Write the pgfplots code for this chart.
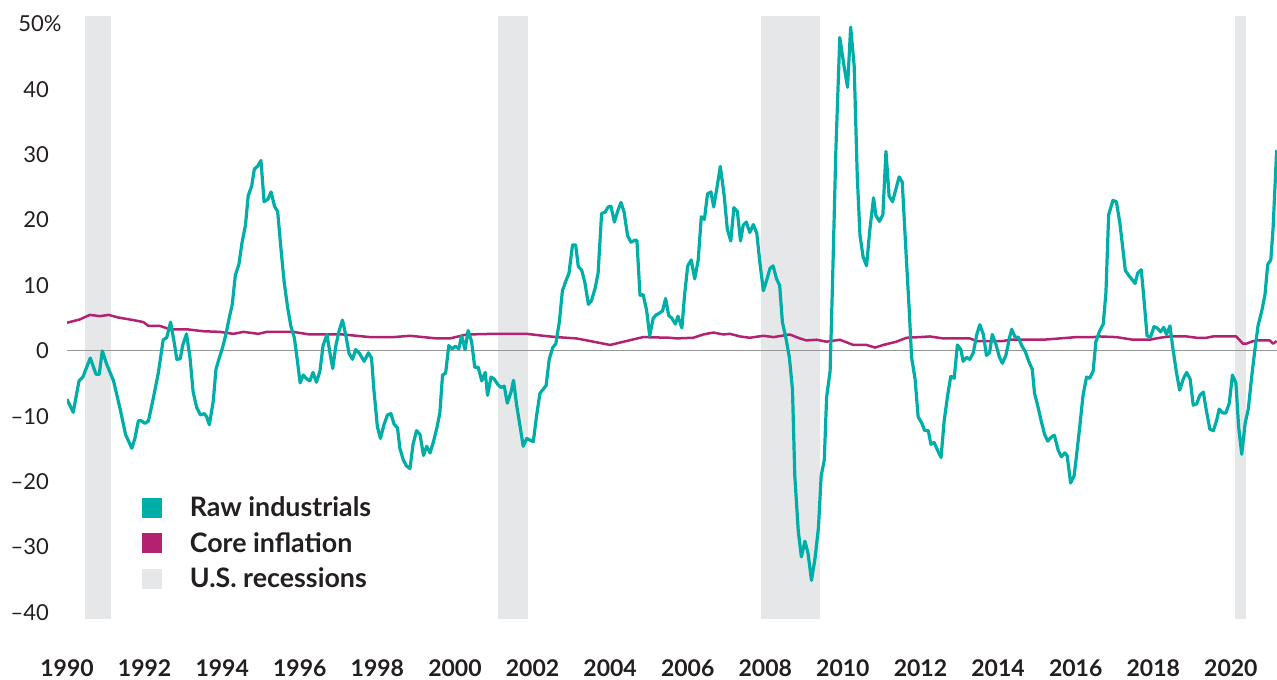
\documentclass[border=0pt]{standalone}
\usepackage{pgfplots}
\pgfplotsset{compat=1.18}
\usepackage{fontspec}
\setmainfont{Lato}
\definecolor{rawcol}{RGB}{0,174,168}
\definecolor{corecol}{RGB}{178,34,112}
\definecolor{recgray}{RGB}{230,231,233}
\definecolor{txt}{RGB}{35,31,32}
\definecolor{zerocol}{RGB}{150,150,150}
\begin{document}
\begin{tikzpicture}
\begin{axis}[
  scale only axis, width=605pt, height=301.5pt,
  xmin=1990, xmax=2021.19, ymin=-41, ymax=51.2,
  axis line style={draw=none}, tick style={draw=none},
  xtick={1990,1992,1994,1996,1998,2000,2002,2004,2006,2008,2010,2012,2014,2016,2018,2020},
  xticklabels={1990,1992,1994,1996,1998,2000,2002,2004,2006,2008,2010,2012,2014,2016,2018,2020},
  ytick={-40,-30,-20,-10,0,10,20,30,40,50},
  yticklabels={–40,–30,–20,–10,0,10,20,30,40,{50\rlap{\%}\hspace*{2.5pt}}},
  xticklabel style={anchor=north, inner sep=0pt, yshift=-20pt, font=\fontsize{11.5}{13}\selectfont\bfseries, text=txt},
  yticklabel style={anchor=east, inner sep=0pt, xshift=-8.8pt, font=\fontsize{11}{13}\selectfont, text=txt},
  legend cell align=left,
  legend style={at={(0.062,0.2007)}, anchor=north west, draw=none, fill=none,
    inner sep=0pt, outer sep=0pt, row sep=7.75pt, column sep=14pt,
    font=\fontsize{13.4}{15}\selectfont\bfseries, text=txt,
    nodes={inner sep=0pt, text height=9pt, text depth=0pt}},
]
% recessions
\addplot[fill=recgray, draw=none, forget plot] coordinates {(1990.46,-41) (1990.46,51.2) (1991.13,51.2) (1991.13,-41)} -- cycle;
\addplot[fill=recgray, draw=none, forget plot] coordinates {(2001.11,-41) (2001.11,51.2) (2001.88,51.2) (2001.88,-41)} -- cycle;
\addplot[fill=recgray, draw=none, forget plot] coordinates {(2007.89,-41) (2007.89,51.2) (2009.41,51.2) (2009.41,-41)} -- cycle;
\addplot[fill=recgray, draw=none, forget plot] coordinates {(2020.10,-41) (2020.10,51.2) (2020.39,51.2) (2020.39,-41)} -- cycle;
% zero line
\addplot[zerocol, line width=0.5pt, forget plot] coordinates {(1990,0) (2021.19,0)};
% core inflation
\addplot[corecol, line width=1.25pt, forget plot, line join=round] coordinates {
(1990.00,4.3) (1990.33,4.8) (1990.59,5.5) (1990.85,5.3) (1991.07,5.5) (1991.32,5.1) (1991.71,4.7) (1991.97,4.4) (1992.10,3.8) (1992.40,3.8) (1992.65,3.3) (1993.08,3.3) (1993.51,3.0) (1993.94,2.9) (1994.29,2.6) (1994.55,2.9) (1994.93,2.6) (1995.15,2.9) (1995.83,2.9) (1996.26,2.5) (1997.12,2.5) (1997.81,2.1) (1998.41,2.1) (1998.84,2.3) (1999.53,1.9) (1999.87,1.9) (2000.30,2.5) (2000.99,2.6) (2001.68,2.6) (2001.85,2.6) (2002.28,2.3) (2002.62,2.1) (2003.13,1.9) (2003.57,1.4) (2004.00,0.9) (2004.42,1.5) (2004.85,2.1) (2005.54,2.0) (2005.71,1.9) (2006.14,2.0) (2006.40,2.5) (2006.66,2.8) (2006.92,2.5) (2007.09,2.6) (2007.35,2.2) (2007.60,2.0) (2007.95,2.3) (2008.21,2.1) (2008.63,2.5) (2008.89,1.9) (2009.06,1.6) (2009.32,1.7) (2009.58,1.4) (2009.92,1.7) (2010.27,0.9) (2010.61,0.9) (2010.83,0.5) (2011.04,0.9) (2011.38,1.4) (2011.64,2.0) (2011.98,2.1) (2012.24,2.2) (2012.58,1.9) (2013.27,1.9) (2013.45,1.5) (2014.13,1.5) (2014.30,1.7) (2015.16,1.7) (2015.59,1.9) (2016.02,2.1) (2016.45,2.1) (2016.62,2.2) (2017.05,2.1) (2017.48,1.7) (2017.91,1.7) (2018.17,2.0) (2018.43,2.2) (2018.86,2.2) (2019.12,2.0) (2019.37,2.0) (2019.54,2.2) (2020.14,2.2) (2020.31,1.1) (2020.40,1.1) (2020.53,1.4) (2020.66,1.6) (2021.00,1.6) (2021.09,1.1) (2021.18,1.5)
};
% raw industrials
\addplot[rawcol, line width=1.6pt, forget plot, line join=round] coordinates {
(1990.00,-7.4) (1990.16,-9.4) (1990.31,-4.6) (1990.41,-4.0) (1990.60,-1.1) (1990.75,-3.6) (1990.83,-3.6) (1990.91,0.0) (1991.02,-2.0) (1991.20,-4.6) (1991.37,-8.9) (1991.51,-12.8) (1991.67,-14.9) (1991.75,-13.4) (1991.84,-10.7) (1991.92,-10.7) (1992.01,-11.1) (1992.10,-10.7) (1992.23,-7.1) (1992.35,-3.5) (1992.48,1.7) (1992.57,2.0) (1992.67,4.4) (1992.76,1.4) (1992.83,-1.3) (1992.92,-1.2) (1992.98,0.8) (1993.08,2.6) (1993.17,-1.0) (1993.25,-6.2) (1993.34,-8.6) (1993.44,-9.8) (1993.54,-9.6) (1993.60,-10.1) (1993.67,-11.3) (1993.77,-7.7) (1993.84,-2.8) (1993.93,-1.0) (1994.01,0.5) (1994.10,2.6) (1994.18,5.0) (1994.26,7.1) (1994.34,11.6) (1994.43,13.2) (1994.51,16.5) (1994.60,19.2) (1994.67,23.7) (1994.76,25.2) (1994.83,27.8) (1994.91,28.2) (1995.00,29.1) (1995.08,22.8) (1995.18,23.2) (1995.26,24.3) (1995.35,22.1) (1995.43,21.3) (1995.52,15.3) (1995.60,10.4) (1995.69,6.5) (1995.77,3.8) (1995.86,2.0) (1995.94,-1.6) (1996.01,-4.9) (1996.09,-3.7) (1996.18,-4.3) (1996.26,-4.6) (1996.34,-3.3) (1996.43,-4.8) (1996.52,-3.1) (1996.60,0.8) (1996.70,2.5) (1996.78,-0.4) (1996.85,-2.7) (1996.93,0.8) (1997.02,3.2) (1997.10,4.7) (1997.19,2.3) (1997.27,-0.4) (1997.36,-1.3) (1997.44,0.2) (1997.54,-0.4) (1997.66,-1.6) (1997.77,-0.3) (1997.85,-1.1) (1997.91,-5.9) (1998.00,-11.6) (1998.08,-13.4) (1998.17,-11.3) (1998.26,-9.8) (1998.35,-9.6) (1998.43,-11.2) (1998.52,-11.8) (1998.58,-14.9) (1998.67,-16.7) (1998.75,-17.6) (1998.84,-18.0) (1998.92,-14.3) (1999.01,-12.2) (1999.10,-12.8) (1999.19,-16.0) (1999.27,-14.6) (1999.36,-15.6) (1999.44,-14.0) (1999.53,-11.9) (1999.61,-9.5) (1999.68,-3.7) (1999.76,-3.4) (1999.84,0.8) (1999.93,0.3) (2000.01,0.7) (2000.10,0.3) (2000.17,2.3) (2000.26,0.2) (2000.34,3.1) (2000.43,1.4) (2000.51,-2.5) (2000.60,-2.5) (2000.69,-4.6) (2000.78,-3.3) (2000.84,-6.8) (2000.93,-4.0) (2001.01,-4.3) (2001.10,-5.1) (2001.18,-5.6) (2001.27,-5.4) (2001.35,-8.0) (2001.45,-6.2) (2001.51,-4.5) (2001.59,-8.3) (2001.68,-11.6) (2001.76,-14.6) (2001.85,-13.4) (2002.02,-13.9) (2002.10,-10.1) (2002.19,-6.5) (2002.35,-5.3) (2002.43,-1.3) (2002.52,0.5) (2002.60,1.1) (2002.69,4.4) (2002.77,9.2) (2002.86,10.7) (2002.94,11.9) (2003.03,16.2) (2003.11,16.2) (2003.18,12.9) (2003.27,12.3) (2003.35,10.4) (2003.44,7.1) (2003.52,7.7) (2003.61,9.5) (2003.69,11.9) (2003.78,21.0) (2003.87,21.2) (2003.95,22.0) (2004.02,22.1) (2004.11,19.7) (2004.19,21.3) (2004.28,22.7) (2004.36,21.2) (2004.45,17.6) (2004.54,16.6) (2004.63,16.9) (2004.69,16.9) (2004.77,8.5) (2004.85,8.6) (2004.94,6.2) (2005.02,2.3) (2005.11,5.0) (2005.19,5.5) (2005.28,5.8) (2005.35,6.1) (2005.43,8.0) (2005.51,5.4) (2005.59,5.0) (2005.68,4.1) (2005.75,5.3) (2005.85,3.5) (2005.92,8.6) (2006.00,13.0) (2006.09,13.9) (2006.18,11.0) (2006.27,13.9) (2006.35,20.5) (2006.43,20.1) (2006.51,24.0) (2006.60,24.3) (2006.67,22.0) (2006.76,25.2) (2006.84,28.2) (2006.94,23.7) (2007.02,18.6) (2007.11,16.8) (2007.19,21.9) (2007.28,21.3) (2007.36,16.8) (2007.43,19.2) (2007.51,19.7) (2007.60,18.1) (2007.69,19.3) (2007.78,18.0) (2007.86,13.5) (2007.95,9.2) (2008.03,10.7) (2008.12,12.6) (2008.20,13.0) (2008.29,11.0) (2008.37,10.0) (2008.44,4.4) (2008.53,2.0) (2008.62,-1.0) (2008.70,-5.9) (2008.76,-19.1) (2008.85,-27.6) (2008.93,-31.5) (2009.02,-29.1) (2009.10,-30.9) (2009.19,-35.1) (2009.28,-31.8) (2009.37,-27.0) (2009.44,-19.1) (2009.52,-16.7) (2009.58,-7.1) (2009.67,-3.1) (2009.73,9.8) (2009.82,31.0) (2009.92,47.9) (2010.02,43.9) (2010.12,40.3) (2010.20,49.5) (2010.29,43.6) (2010.37,26.7) (2010.44,17.7) (2010.52,14.4) (2010.61,13.0) (2010.69,18.3) (2010.79,23.4) (2010.85,20.7) (2010.94,19.8) (2011.03,20.8) (2011.11,30.5) (2011.19,23.7) (2011.28,22.8) (2011.36,24.6) (2011.45,26.6) (2011.53,25.8) (2011.63,14.7) (2011.71,6.2) (2011.77,-1.0) (2011.86,-4.3) (2011.94,-10.1) (2012.03,-11.0) (2012.11,-12.2) (2012.20,-12.2) (2012.27,-14.3) (2012.35,-14.0) (2012.44,-15.2) (2012.53,-16.3) (2012.61,-10.7) (2012.70,-6.8) (2012.78,-3.9) (2012.87,-4.2) (2012.95,0.9) (2013.04,0.2) (2013.10,-1.6) (2013.19,-1.0) (2013.27,-1.3) (2013.36,-0.3) (2013.45,2.5) (2013.53,4.0) (2013.62,2.5) (2013.70,-0.7) (2013.78,-0.3) (2013.85,2.5) (2013.94,1.1) (2014.03,-0.9) (2014.11,-1.9) (2014.20,-0.7) (2014.29,1.9) (2014.35,3.3) (2014.44,2.1) (2014.52,2.1) (2014.61,0.8) (2014.70,-0.1) (2014.79,-1.6) (2014.88,-2.8) (2014.94,-6.5) (2015.03,-8.6) (2015.11,-10.7) (2015.20,-12.8) (2015.28,-13.8) (2015.37,-13.2) (2015.45,-12.9) (2015.55,-15.2) (2015.63,-16.2) (2015.72,-15.6) (2015.78,-16.0) (2015.87,-20.2) (2015.96,-19.1) (2016.02,-16.1) (2016.11,-11.3) (2016.19,-6.8) (2016.28,-4.0) (2016.36,-4.2) (2016.45,-3.1) (2016.52,1.4) (2016.61,2.9) (2016.71,4.1) (2016.78,8.9) (2016.85,20.8) (2016.96,23.0) (2017.05,22.8) (2017.14,19.5) (2017.21,15.9) (2017.28,12.3) (2017.36,11.6) (2017.44,11.0) (2017.53,10.3) (2017.60,11.9) (2017.69,12.4) (2017.75,8.6) (2017.84,2.3) (2017.93,2.1) (2018.02,3.7) (2018.10,3.5) (2018.19,2.9) (2018.27,3.6) (2018.34,2.5) (2018.43,3.8) (2018.51,0.2) (2018.60,-3.4) (2018.68,-6.0) (2018.78,-4.2) (2018.86,-3.3) (2018.95,-4.3) (2019.03,-8.3) (2019.12,-8.1) (2019.20,-6.8) (2019.29,-6.3) (2019.37,-9.2) (2019.46,-12.0) (2019.55,-12.2) (2019.63,-10.7) (2019.70,-8.9) (2019.79,-9.5) (2019.87,-9.5) (2019.96,-8.0) (2020.04,-3.7) (2020.13,-4.9) (2020.20,-11.6) (2020.28,-15.8) (2020.37,-11.0) (2020.45,-8.9) (2020.53,-4.3) (2020.62,0.2) (2020.70,3.8) (2020.80,6.2) (2020.88,8.6) (2020.95,13.2) (2021.03,13.9) (2021.09,18.9) (2021.18,30.7)
};
\addlegendimage{legend image code/.code={\fill[rawcol] (0pt,-4.75pt) rectangle (9.5pt,4.75pt);}}
\addlegendentry{Raw industrials}
\addlegendimage{legend image code/.code={\fill[corecol] (0pt,-4.75pt) rectangle (9.5pt,4.75pt);}}
\addlegendentry{Core inflation}
\addlegendimage{legend image code/.code={\fill[recgray] (0pt,-4.75pt) rectangle (9.5pt,4.75pt);}}
\addlegendentry{U.S. recessions}
\end{axis}
\pgfresetboundingbox
\path[use as bounding box] (-33.5pt,-30pt) rectangle (605pt,309.5pt);
\end{tikzpicture}
\end{document}
